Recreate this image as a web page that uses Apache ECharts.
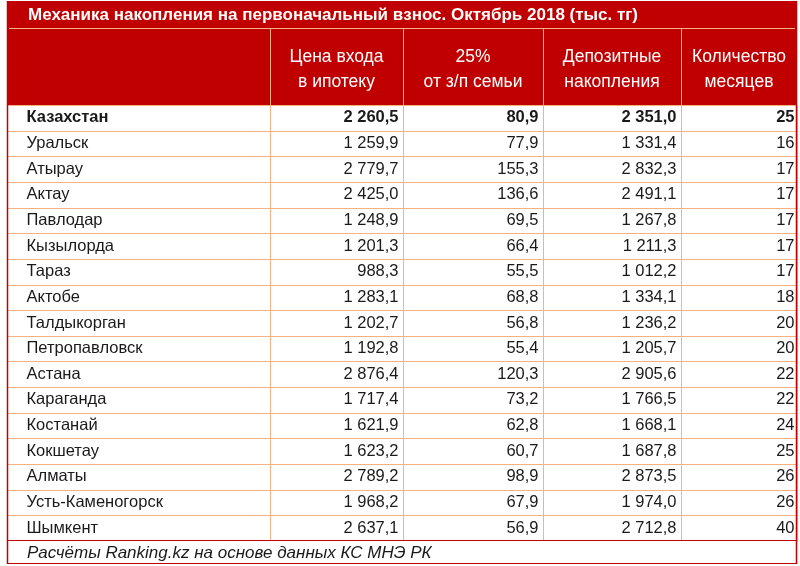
<!DOCTYPE html>
<html>
<head>
<meta charset="utf-8">
<script src="https://cdn.jsdelivr.net/npm/echarts@6/dist/echarts.min.js"></script>
<style>
  html, body { margin: 0; padding: 0; background: #fff; }
  #chart { width: 800px; height: 566px; }
</style>
</head>
<body>
<div id="chart"></div>
<script>
// данные таблицы
const cities = ['Казахстан', 'Уральск', 'Атырау', 'Актау', 'Павлодар', 'Кызылорда', 'Тараз', 'Актобе',
  'Талдыкорган', 'Петропавловск', 'Астана', 'Караганда', 'Костанай', 'Кокшетау', 'Алматы',
  'Усть-Каменогорск', 'Шымкент'];
const entryPrice = [2260.5, 1259.9, 2779.7, 2425.0, 1248.9, 1201.3, 988.3, 1283.1, 1202.7, 1192.8,
  2876.4, 1717.4, 1621.9, 1623.2, 2789.2, 1968.2, 2637.1];
const salaryShare = [80.9, 77.9, 155.3, 136.6, 69.5, 66.4, 55.5, 68.8, 56.8, 55.4,
  120.3, 73.2, 62.8, 60.7, 98.9, 67.9, 56.9];
const deposits = [2351.0, 1331.4, 2832.3, 2491.1, 1267.8, 1211.3, 1012.2, 1334.1, 1236.2, 1205.7,
  2905.6, 1766.5, 1668.1, 1687.8, 2873.5, 1974.0, 2712.8];
const months = [25, 16, 17, 17, 17, 17, 17, 18, 20, 20, 22, 22, 24, 25, 26, 26, 40];

const columnHeaders = [
  '',
  'Цена входа\nв ипотеку',
  '25%\nот з/п семьи',
  'Депозитные\nнакопления',
  'Количество\nмесяцев'
];
const titleText = 'Механика накопления на первоначальный взнос. Октябрь 2018 (тыс. тг)';
const footerText = 'Расчёты Ranking.kz на основе данных КС МНЭ РК';

// разметка
const RED = '#c00000';
const GRID_LINE = '#f4b183';
const FONT = '"Liberation Sans", Arial, sans-serif';
const gridLeft = 7, gridTop = 105, gridBottom = 25, gridRight = 3;
const colEdges = [0, 263, 396, 536, 674, 790];

function fmt(v, d) {
  const parts = v.toFixed(d).split('.');
  const ip = parts[0].replace(/\B(?=(\d{3})+(?!\d))/g, ' ');
  return parts[1] ? ip + ',' + parts[1] : ip;
}

const chart = echarts.init(document.getElementById('chart'));

// шапка
const graphics = [
  { type: 'rect', shape: { x: 7, y: 1, width: 790, height: 28 }, style: { fill: RED } },
  { type: 'rect', shape: { x: 7, y: 29, width: 790, height: 76 }, style: { fill: RED } },
  { type: 'line', shape: { x1: 9, y1: 28.5, x2: 795, y2: 28.5 }, style: { stroke: GRID_LINE, lineWidth: 1 } },
  {
    type: 'text', x: 28, y: 15,
    style: { text: titleText, fill: '#fff', font: 'bold 17px ' + FONT, verticalAlign: 'middle' }
  }
];
for (let c = 1; c < colEdges.length - 1; c++) {
  const x = gridLeft + colEdges[c] + 0.5;
  graphics.push({ type: 'line', shape: { x1: x, y1: 29, x2: x, y2: 105 }, style: { stroke: GRID_LINE, lineWidth: 1 } });
}
for (let c = 1; c < columnHeaders.length; c++) {
  const cx = gridLeft + (colEdges[c] + colEdges[c + 1]) / 2;
  graphics.push({
    type: 'text', x: cx, y: 70,
    style: {
      text: columnHeaders[c], fill: '#fff', font: '17.5px ' + FONT,
      align: 'center', verticalAlign: 'middle', lineHeight: 25
    }
  });
}
// рамка и подпись
graphics.push(
  { type: 'rect', z: 10, shape: { x: 7.5, y: 540.5, width: 789, height: 23 }, style: { fill: '#fff', stroke: RED, lineWidth: 1 } },
  { type: 'line', z: 10, shape: { x1: 7.5, y1: 1, x2: 7.5, y2: 564 }, style: { stroke: RED, lineWidth: 1.5 } },
  { type: 'line', z: 10, shape: { x1: 796.5, y1: 1, x2: 796.5, y2: 564 }, style: { stroke: RED, lineWidth: 1.5 } },
  {
    type: 'text', z: 11, x: 27, y: 553,
    style: { text: footerText, fill: '#1a1a1a', font: 'italic 17px ' + FONT, verticalAlign: 'middle' }
  }
);

chart.setOption({
  animation: false,
  grid: { left: gridLeft, right: gridRight, top: gridTop, bottom: gridBottom },
  xAxis: { type: 'value', min: 0, max: 790, show: false },
  yAxis: { type: 'category', data: cities, inverse: true, show: false },
  graphic: graphics,
  series: [{
    type: 'custom',
    data: cities.map((c, i) => [0, i]),
    encode: { x: 0, y: 1 },
    renderItem: function (params, api) {
      const r = api.value(1);
      const cy = api.coord([0, r])[1];
      const h = api.size([0, 1])[1];
      const top = Math.round(cy - h / 2) + 0.5;
      const bottom = Math.round(cy + h / 2) + 0.5;
      const cells = [
        cities[r],
        fmt(entryPrice[r], 1),
        fmt(salaryShare[r], 1),
        fmt(deposits[r], 1),
        fmt(months[r], 0)
      ];
      const weight = r === 0 ? 'bold ' : '';
      const children = [];
      for (let c = 0; c < cells.length; c++) {
        const x0 = Math.round(api.coord([colEdges[c], r])[0]) + 0.5;
        const x1 = Math.round(api.coord([colEdges[c + 1], r])[0]) + 0.5;
        children.push({
          type: 'rect',
          shape: { x: x0, y: top, width: x1 - x0, height: bottom - top },
          style: { fill: '#fff', stroke: GRID_LINE, lineWidth: 1 }
        });
        children.push({
          type: 'text',
          x: c === 0 ? x0 + 19 : x1 - (c === cells.length - 1 ? 3 : 5),
          y: cy,
          style: {
            text: cells[c], fill: '#1a1a1a', font: weight + '16.5px ' + FONT,
            align: c === 0 ? 'left' : 'right', verticalAlign: 'middle'
          }
        });
      }
      return { type: 'group', children: children };
    }
  }]
});
</script>
</body>
</html>
